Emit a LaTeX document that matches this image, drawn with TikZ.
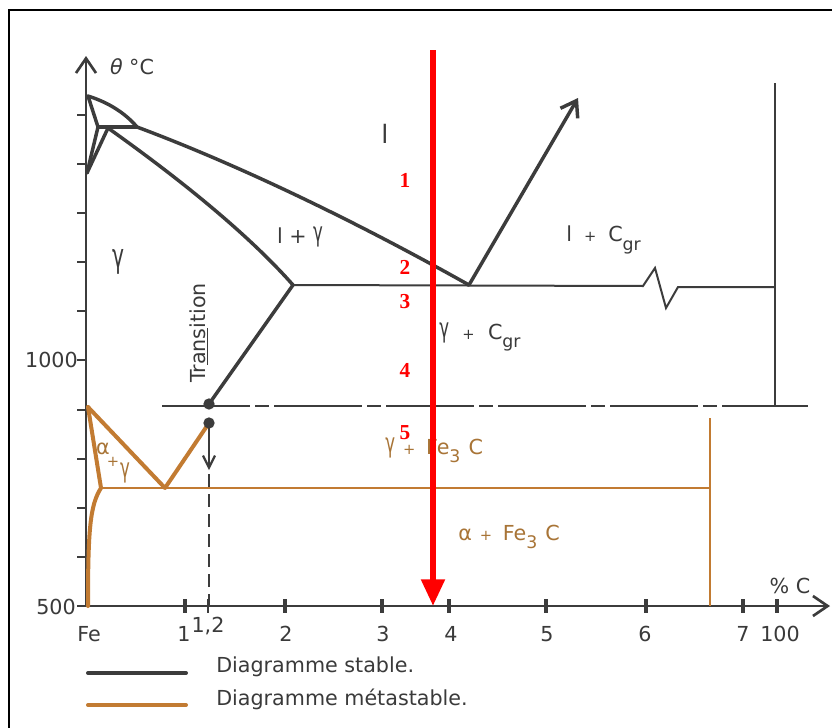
\documentclass[tikz,border=0pt]{standalone}
\usepackage{fontspec}
\usepackage{graphicx}
\setmainfont{DejaVu Sans}
\newfontfamily\redfont{Liberation Serif}
\usetikzlibrary{arrows.meta}
\definecolor{stab}{HTML}{3C3C3C}
\definecolor{meta}{HTML}{C27B32}
\definecolor{metatext}{HTML}{A87436}
\definecolor{txt}{HTML}{3A3A3A}
\newcommand{\lowsub}[1]{\raisebox{-0.4em}{\fontsize{13}{13}\selectfont #1}}
\newcommand{\smallplus}{{\fontsize{11}{11}\selectfont +}}
\newcommand{\tgam}{\raisebox{0.1em}{\scalebox{0.8}[1.3]{γ}}}
\begin{document}
\begin{tikzpicture}[x=0.75pt,y=-0.75pt,
  stable/.style={draw=stab,line width=2.6pt,line join=round,line cap=round},
  thinstable/.style={draw=stab,line width=1.5pt},
  metal/.style={draw=meta,line width=3pt,line join=round,line cap=round},
  thinmeta/.style={draw=meta,line width=1.6pt},
  axisline/.style={draw=stab,line width=2pt},
  lbl/.style={text=txt,font=\fontsize{15.5}{15.5}\selectfont,inner sep=0pt},
  biglbl/.style={text=txt,font=\fontsize{19}{19}\selectfont,inner sep=0pt},
  mlbl/.style={text=metatext,font=\fontsize{15.5}{15.5}\selectfont,inner sep=0pt},
  redlbl/.style={text=red,font=\redfont\bfseries\fontsize{16}{16}\selectfont,inner sep=0pt},
  chev/.style={-{Straight Barb[length=11pt,width=15pt]}},
  smallchev/.style={-{Straight Barb[length=9pt,width=9pt]}},
  dotstyle/.style={circle,fill=stab,inner sep=0pt,minimum size=8.5pt}
]
\useasboundingbox (0,0) rectangle (832,728);
\fill[white] (0,0) rectangle (832,728);
% frame
\draw[black,line width=1.6pt] (9,728) -- (9,10) -- (832,10);

% axes
\coordinate (O) at (86,606);
\coordinate (Ytop) at (86,56);
\coordinate (Xend) at (830,606);
\draw[axisline,chev] (O) -- (Ytop);
\draw[axisline,chev] (O) -- (Xend);
% y ticks
\foreach \yy in {115,164,213,262,311,360,410,459,508,557,606}
  \draw[axisline] (77,\yy) -- (86,\yy);
% x ticks
\foreach \xx in {185,285,382,449,546,646,743,777}
  \draw[axisline,line width=2.4pt] (\xx,599) -- (\xx,613);
\draw[axisline,line width=1.4pt] (208,599) -- (208,613);

% axis labels
\node[lbl] (theta) at (132,67) {\textit{θ} °C};
\node[lbl,anchor=east] (t1000) at (78,360) {1000};
\node[lbl,anchor=east] (t500) at (76,607) {500};
\node[lbl] (xFe) at (89,634) {Fe};
\node[lbl] (x1) at (184,634) {1};
\node[lbl] (x12) at (208,626) {1,2};
\node[lbl] (x2) at (286,634) {2};
\node[lbl] (x3) at (383,634) {3};
\node[lbl] (x4) at (451,634) {4};
\node[lbl] (x5) at (547,634) {5};
\node[lbl] (x6) at (645,634) {6};
\node[lbl] (x7) at (743,634) {7};
\node[lbl] (x100) at (780,634) {100};
\node[lbl] (pc) at (790,586) {\% C};

% stable diagram key points
\coordinate (A) at (88,96);
\coordinate (H) at (98,127);
\coordinate (J) at (108,128);
\coordinate (N) at (87,173);
\coordinate (B) at (137,127);
\coordinate (Cp) at (469,285);
\coordinate (Ep) at (293,285);
\coordinate (Sp) at (209,404);
\coordinate (Sm) at (209,423);
\coordinate (Gtip) at (578,98);

\draw[stable] (A) .. controls (110,103) and (126,114) .. (B)
  .. controls (180,143) and (300,190) .. (Cp);
\draw[stable] (A) -- (H) -- (N);
\draw[stable] (J) -- (N);
\draw[stable] (H) -- (B);
\draw[stable] (J) .. controls (160,165) and (240,225) .. (Ep);
\draw[stable] (Sp) -- (Ep);
\draw[stable,chev] (Cp) -- (Gtip);
\draw[thinstable] (Ep) -- (643,286) -- (655,268) -- (666,308) -- (678,287) -- (775,287);
\draw[thinstable] (775,83) -- (775,407);
\draw[thinstable,dash pattern=on 66pt off 4pt on 10pt off 4pt] (162,406) -- (808,406);

% metastable
\coordinate (Mtop) at (88,407);
\coordinate (Pm) at (101,488);
\coordinate (Em) at (165,488);
\draw[metal] (Mtop) -- (Em) -- (Sm);
\draw[metal] (Mtop) -- (Pm) .. controls (90,505) and (88,530) .. (88,606);
\draw[thinmeta] (Pm) -- (710,488);
\draw[thinmeta] (710,418) -- (710,606);

% transition
\draw[stab,line width=1.6pt,smallchev] (Sm) -- (209,470);
\draw[stab,line width=1.4pt,dash pattern=on 10pt off 5pt] (209,474) -- (209,606);
\node[dotstyle] (dot1) at (Sp) {};
\node[dotstyle] (dot2) at (Sm) {};
\node[lbl,rotate=90] (trans) at (199,333) {Tr\underline{ans}ition};

% region labels
\node[biglbl] (liq) at (385,134) {l};
\node[lbl] (lg) at (300,237) {l + \tgam};
\node[biglbl] (gam) at (118,262) {\tgam};
\node[lbl,anchor=west] (lC) at (566,240) {l\hspace{9pt}\smallplus\hspace{9pt}C\lowsub{gr}};
\node[lbl,anchor=west] (gC) at (439,337) {\tgam\hspace{10pt}\smallplus\hspace{10pt}C\lowsub{gr}};
\node[mlbl,anchor=west] (gF) at (385,450) {\tgam\hspace{6pt}\smallplus\hspace{8pt}Fe\lowsub{3}\hspace{6pt}C};
\node[mlbl,anchor=west] (aF) at (458,537) {α\hspace{6pt}\smallplus\hspace{8pt}Fe\lowsub{3}\hspace{6pt}C};
\node[mlbl] (al) at (103,449) {α};
\node[mlbl] (pl) at (113,462) {\smallplus};
\node[mlbl] (ga) at (125,473) {\tgam};

% legend
\draw[stab,line width=3pt,line cap=round] (88,673) -- (186,673);
\draw[meta,line width=3pt,line cap=round] (88,705) -- (186,705);
\node[lbl,anchor=west] (leg1) at (216,667) {Diagramme stable.};
\node[lbl,anchor=west] (leg2) at (216,699) {Diagramme métastable.};

% red annotation
\draw[red,line width=4.5pt,-{Triangle[length=20pt,width=17pt]}] (433,50) -- (433,606);
\node[redlbl] (r1) at (405,180) {1};
\node[redlbl] (r2) at (405,267) {2};
\node[redlbl] (r3) at (405,302) {3};
\node[redlbl] (r4) at (405,370) {4};
\node[redlbl] (r5) at (405,433) {5};
\end{tikzpicture}
\end{document}
